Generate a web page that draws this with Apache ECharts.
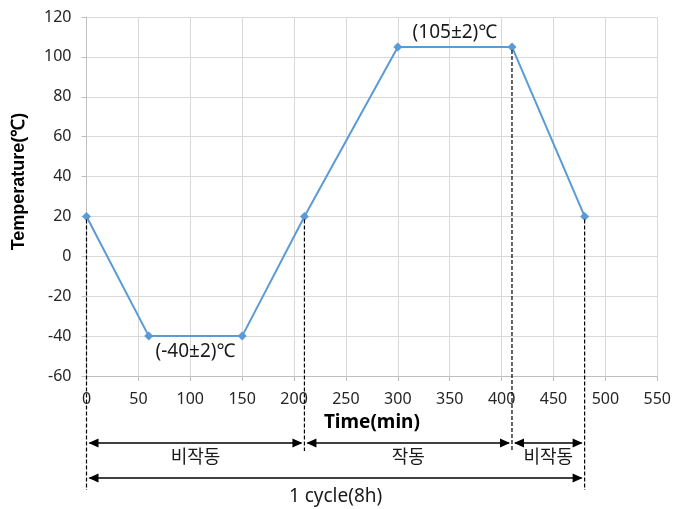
<!DOCTYPE html>
<html>
<head>
<meta charset="utf-8">
<script src="https://cdn.jsdelivr.net/npm/echarts@6/dist/echarts.min.js"></script>
<style>
  html, body { margin: 0; padding: 0; background: #fff; }
  #main { width: 674px; height: 509px; }
</style>
</head>
<body>
<div id="main"></div>
<script>
// temperature profile of one cycle
var times = [0, 60, 150, 210, 300, 410, 480];
var temps = [20, -40, -40, 20, 105, 105, 20];

// dashed guide lines (time values)
var guideTimes = [0, 210, 410, 480];

// phases under the axis
var phaseStart = [0, 210, 410];
var phaseEnd = [210, 410, 480];
var phaseNames = ['비작동', '작동', '비작동'];

var cycleSpan = [0, 480];
var cycleName = '1 cycle(8h)';

// plateau notes
var noteTimes = [355, 105];
var noteTemps = [105, -40];
var noteTexts = ['(105±2)℃', '(-40±2)℃'];

var LATIN = "'Noto Sans', 'Noto Sans CJK KR', sans-serif";
var KR = "'Noto Sans CJK KR', 'Noto Sans', sans-serif";

var chartDom = document.getElementById('main');
var myChart = echarts.init(chartDom);
var option;

function tempAt(t) {
    var i = times.indexOf(t);
    return i >= 0 ? temps[i] : 0;
}

// filled head, tip at tipX, pointing by dir
function arrowHead(tipX, y, dir) {
    return {
        type: 'polygon',
        shape: {points: [[tipX, y], [tipX - dir * 10, y - 4.5], [tipX - dir * 10, y + 4.5]]},
        style: {fill: '#000'}
    };
}

function doubleArrow(xa, xb, y, text, textY, font) {
    return {
        type: 'group',
        children: [
            {type: 'line', shape: {x1: xa + 3, y1: y, x2: xb - 3, y2: y}, style: {stroke: '#000', lineWidth: 1.6}},
            arrowHead(xa + 2, y, -1),
            arrowHead(xb - 2, y, 1),
            {
                type: 'text',
                style: {
                    x: (xa + xb) / 2, y: textY, text: text, align: 'center', verticalAlign: 'middle',
                    font: font, fill: '#1a1a1a'
                }
            }
        ]
    };
}

option = {
    animation: false,
    grid: {left: 86.5, right: 15, top: 17, bottom: 133},
    xAxis: {
        type: 'value',
        min: 0,
        max: 550,
        interval: 50,
        name: 'Time(min)',
        nameLocation: 'middle',
        nameGap: 37,
        nameTextStyle: {fontFamily: LATIN, fontWeight: 'bold', fontSize: 19, color: '#000'},
        axisLine: {show: true, onZero: false, lineStyle: {color: '#bfbfbf', width: 1}},
        axisTick: {show: true, length: 5, lineStyle: {color: '#bfbfbf'}},
        axisLabel: {fontFamily: LATIN, fontSize: 16, color: '#262626', margin: 15},
        splitLine: {show: true, lineStyle: {color: '#d9d9d9', width: 1}}
    },
    yAxis: {
        type: 'value',
        min: -60,
        max: 120,
        interval: 20,
        name: 'Temperature(℃)',
        nameLocation: 'middle',
        nameGap: 58,
        nameTextStyle: {
            fontFamily: "'Liberation Sans', Arial, sans-serif", fontWeight: 'bold', fontSize: 18, color: '#000',
            padding: [0, 0, 0, 30]
        },
        axisLine: {show: true, lineStyle: {color: '#bfbfbf', width: 1}},
        axisTick: {show: true, length: 5, lineStyle: {color: '#bfbfbf'}},
        axisLabel: {fontFamily: LATIN, fontSize: 16, color: '#262626', margin: 15},
        splitLine: {show: true, lineStyle: {color: '#d9d9d9', width: 1}}
    },
    series: [
        {
            name: 'Temperature',
            type: 'line',
            data: times.map(function (t, i) { return [t, temps[i]]; }),
            symbol: 'diamond',
            symbolSize: 9,
            lineStyle: {color: '#5b9bd5', width: 2},
            itemStyle: {color: '#5b9bd5'},
            z: 3
        },
        {
            // dashed guides reaching below the axis
            type: 'custom',
            clip: false,
            silent: true,
            z: 4,
            data: guideTimes.map(function (t) { return [t, tempAt(t)]; }),
            renderItem: function (params, api) {
                var t = api.value(0);
                var p = api.coord([t, api.value(1)]);
                var base = params.coordSys.y + params.coordSys.height;
                var outer = (t === cycleSpan[0] || t === cycleSpan[1]);
                return {
                    type: 'line',
                    shape: {x1: p[0], y1: p[1] + 3, x2: p[0], y2: base + (outer ? 114 : 75)},
                    style: {stroke: '#000', lineWidth: 1.2, lineDash: [4, 2]}
                };
            }
        },
        {
            // phase arrows
            type: 'custom',
            clip: false,
            silent: true,
            data: phaseStart.map(function (s, i) { return [s, phaseEnd[i]]; }),
            renderItem: function (params, api) {
                var xa = api.coord([api.value(0), 0])[0];
                var xb = api.coord([api.value(1), 0])[0];
                var base = params.coordSys.y + params.coordSys.height;
                return doubleArrow(xa, xb, base + 67, phaseNames[params.dataIndex], base + 80, 'normal 18px ' + KR);
            }
        },
        {
            // full cycle arrow
            type: 'custom',
            clip: false,
            silent: true,
            data: [[cycleSpan[0], cycleSpan[1]]],
            renderItem: function (params, api) {
                var xa = api.coord([api.value(0), 0])[0];
                var xb = api.coord([api.value(1), 0])[0];
                var base = params.coordSys.y + params.coordSys.height;
                return doubleArrow(xa, xb, base + 102, cycleName, base + 121, 'normal 19px ' + LATIN);
            }
        },
        {
            // plateau notes
            type: 'custom',
            clip: false,
            silent: true,
            data: noteTimes.map(function (t, i) { return [t, noteTemps[i]]; }),
            renderItem: function (params, api) {
                var p = api.coord([api.value(0), api.value(1)]);
                var up = params.dataIndex === 0;
                return {
                    type: 'text',
                    style: {
                        x: p[0], y: p[1] + (up ? -14 : 15), text: noteTexts[params.dataIndex],
                        align: 'center', verticalAlign: 'middle',
                        font: 'normal 19px ' + LATIN, fill: '#1a1a1a'
                    }
                };
            }
        }
    ]
};

option && myChart.setOption(option);
</script>
</body>
</html>
